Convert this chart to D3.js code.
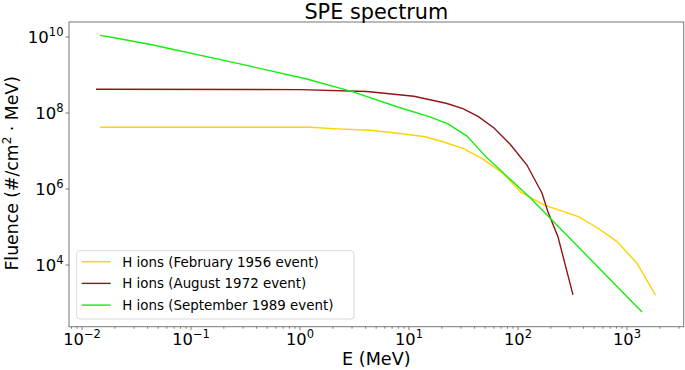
<!DOCTYPE html>
<html>
<head>
<meta charset="utf-8">
<script src="https://cdn.jsdelivr.net/npm/d3@7"></script>
<style>
  body { margin: 0; background: #fff; }
  svg text { font-family: "DejaVu Sans", sans-serif; }
  .axis path { display: none; }
  .axis line { stroke: #777; stroke-width: 1; }
</style>
</head>
<body>
<svg class="chart" width="685" height="370"></svg>
<script>
// values
var energy1956 = [0.0148, 1.25, 2.21, 4.44, 8.36, 14.2, 20.7, 31.6, 47.2, 73.6, 108, 175, 366, 548, 819, 1248, 1845];
var fluence1956 = [4.1e7, 4.1e7, 3.7e7, 3.4e7, 2.8e7, 2.3e7, 1.7e7, 1.14e7, 6.2e6, 2.5e6, 7.9e5, 3.7e5, 1.8e5, 9.0e4, 4.0e4, 1.08e4, 1.56e3];

var energy1972 = [0.0136, 1.01, 4.16, 11.2, 22.1, 31.6, 43.4, 60.9, 85.3, 122, 168, 190, 235, 323];
var fluence1972 = [4.08e8, 4.0e8, 3.57e8, 2.67e8, 1.75e8, 1.26e8, 7.9e7, 3.9e7, 1.48e7, 4.15e6, 7.5e5, 2.45e5, 5.4e4, 1.58e3];

var energy1989 = [0.0148, 0.0195, 0.0453, 0.284, 1.17, 3.10, 7.84, 15.7, 23.0, 34.4, 52.5, 130, 1387];
var fluence1989 = [1.07e10, 9.4e9, 6.0e9, 1.9e9, 7.6e8, 3.5e8, 1.42e8, 7.7e7, 5.0e7, 2.4e7, 6.4e6, 5.8e5, 562];

var seriesNames = ["H ions (February 1956 event)", "H ions (August 1972 event)", "H ions (September 1989 event)"];
var seriesColors = ["#ffd200", "#901414", "#11ee11"];

var xTickExps = [-2, -1, 0, 1, 2, 3];
var yTickExps = [4, 6, 8, 10];

var svg = d3.select(".chart"),
    plotLeft = 69, plotRight = 683.7, plotTop = 22, plotBottom = 326.7;

var x = d3.scaleLog().domain([Math.pow(10, -2.1147), Math.pow(10, 3.5248)]).range([plotLeft, plotRight]),
    y = d3.scaleLog().domain([Math.pow(10, 2.363), Math.pow(10, 10.382)]).range([plotBottom, plotTop]);

var series = [
    { name: seriesNames[0], color: seriesColors[0], e: energy1956, f: fluence1956 },
    { name: seriesNames[1], color: seriesColors[1], e: energy1972, f: fluence1972 },
    { name: seriesNames[2], color: seriesColors[2], e: energy1989, f: fluence1989 }
];

var line = d3.line()
    .x(function(d) { return x(d[0]); })
    .y(function(d) { return y(d[1]); });

svg.append("g")
    .selectAll("path")
    .data(series)
    .enter().append("path")
    .attr("fill", "none")
    .attr("stroke", function(d) { return d.color; })
    .attr("stroke-width", 1.4)
    .attr("d", function(d) { return line(d3.zip(d.e, d.f)); });

// minor x ticks
var minors = [];
for (var p = -3; p <= 3; p++) {
    for (var m = 2; m <= 9; m++) {
        var v = m * Math.pow(10, p);
        if (v > x.domain()[0] && v < x.domain()[1]) minors.push(v);
    }
}
svg.append("g")
    .attr("class", "axis")
    .attr("transform", "translate(0," + plotBottom + ")")
    .call(d3.axisBottom(x).tickValues(minors).tickSize(2).tickFormat(""));

var xAxis = svg.append("g")
    .attr("class", "axis")
    .attr("transform", "translate(0," + plotBottom + ")")
    .call(d3.axisBottom(x).tickValues(xTickExps.map(function(k) { return Math.pow(10, k); }))
        .tickSize(3.5).tickFormat(""));

xAxis.selectAll(".tick").each(function(d, i) {
    var t = d3.select(this).append("text")
        .attr("y", 18.8)
        .attr("fill", "#000")
        .attr("text-anchor", "middle")
        .style("font-size", "16.3px");
    t.append("tspan").text("10");
    t.append("tspan").attr("dy", -7).style("font-size", "11.5px")
        .text(String(xTickExps[i]).replace("-", "\u2212"));
});

var yAxis = svg.append("g")
    .attr("class", "axis")
    .attr("transform", "translate(" + plotLeft + ",0)")
    .call(d3.axisLeft(y).tickValues(yTickExps.map(function(k) { return Math.pow(10, k); }))
        .tickSize(3.5).tickFormat(""));

yAxis.selectAll(".tick").each(function(d, i) {
    var t = d3.select(this).append("text")
        .attr("x", -5.5)
        .attr("y", 6)
        .attr("fill", "#000")
        .attr("text-anchor", "end")
        .style("font-size", "16.5px");
    t.append("tspan").text("10");
    t.append("tspan").attr("dy", -7).style("font-size", "11.5px").text(yTickExps[i]);
});

// frame
svg.append("rect")
    .attr("x", plotLeft).attr("y", plotTop)
    .attr("width", plotRight - plotLeft).attr("height", plotBottom - plotTop)
    .attr("fill", "none").attr("stroke", "#777").attr("stroke-width", 1);

svg.append("text")
    .attr("x", (plotLeft + plotRight) / 2).attr("y", 18.5)
    .attr("text-anchor", "middle").style("font-size", "20.8px")
    .text("SPE spectrum");

svg.append("text")
    .attr("x", (plotLeft + plotRight) / 2).attr("y", 364.5)
    .attr("text-anchor", "middle").style("font-size", "17.6px")
    .text("E (MeV)");

var yl = svg.append("text")
    .attr("transform", "translate(17.5," + ((plotTop + plotBottom) / 2 - 1) + ") rotate(-90)")
    .attr("text-anchor", "middle").style("font-size", "17.3px");
yl.append("tspan").text("Fluence (#/cm");
yl.append("tspan").attr("dy", -7).style("font-size", "12px").text("2");
yl.append("tspan").attr("dy", 7).text(" \u00b7 MeV)");

// legend
var legend = svg.append("g").attr("transform", "translate(76.7,250.7)");
legend.append("rect")
    .attr("width", 277.3).attr("height", 68.3).attr("rx", 3)
    .attr("fill", "#fff").attr("fill-opacity", 0.8)
    .attr("stroke", "#d9d9d9").attr("stroke-width", 1);

var items = legend.selectAll(".item")
    .data(series)
    .enter().append("g")
    .attr("transform", function(d, i) { return "translate(0," + (11 + i * 21.7) + ")"; });

items.append("line")
    .attr("x1", 5).attr("x2", 34)
    .attr("stroke", function(d) { return d.color; })
    .attr("stroke-width", 1.4);

items.append("text")
    .attr("x", 45.6).attr("y", 5)
    .style("font-size", "13.4px")
    .text(function(d) { return d.name; });
</script>
</body>
</html>
